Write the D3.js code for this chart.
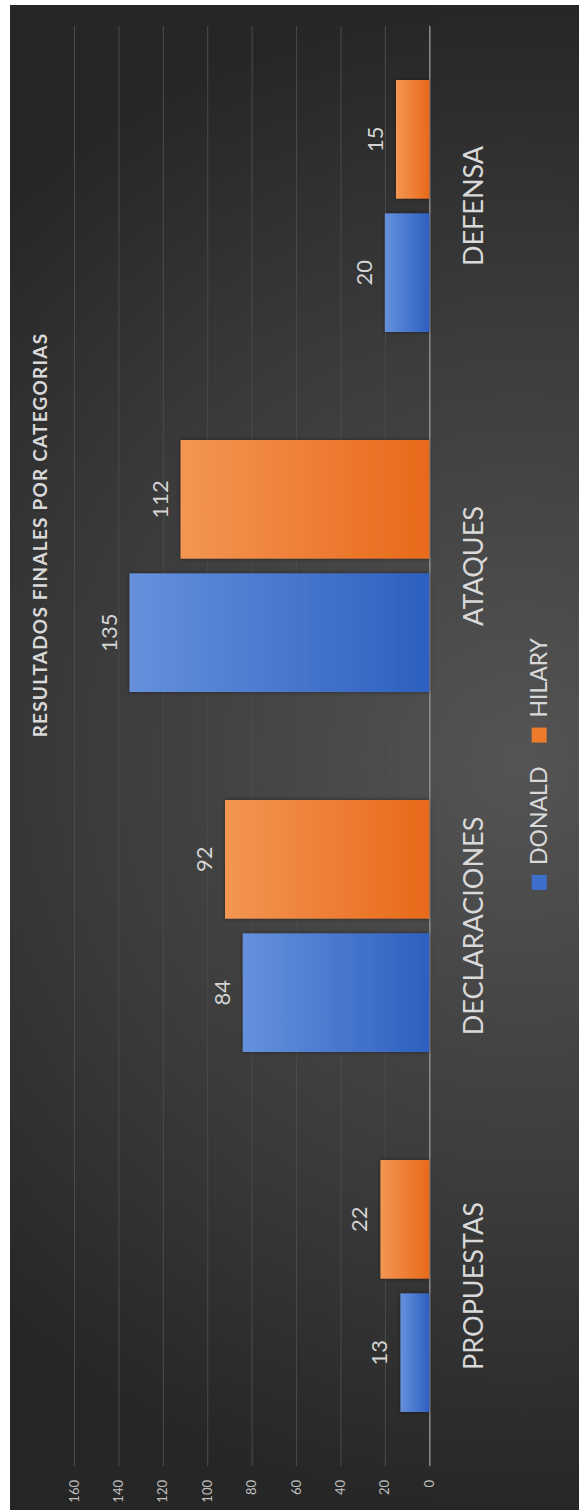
<!DOCTYPE html>
<html>
<head>
<meta charset="utf-8">
<script src="https://d3js.org/d3.v7.min.js"></script>
<style>
html,body{margin:0;padding:0;background:#fff;}
svg{display:block;}
text{font-family:Lato,"Open Sans",sans-serif;}
</style>
</head>
<body>
<script>
const categories = ["PROPUESTAS", "DECLARACIONES", "ATAQUES", "DEFENSA"];
const seriesNames = ["DONALD", "HILARY"];
const donald = [13, 84, 135, 20];
const hilary = [22, 92, 112, 15];
const tickValues = [0, 20, 40, 60, 80, 100, 120, 140, 160];
const titleText = "RESULTADOS FINALES POR CATEGORIAS";

const W = 579, H = 1510;
const svg = d3.select("body").append("svg").attr("width", W).attr("height", H);
const defs = svg.append("defs");

const bg = defs.append("radialGradient").attr("id", "bg")
  .attr("gradientUnits", "userSpaceOnUse")
  .attr("cx", 520).attr("cy", 760).attr("r", 760);
bg.append("stop").attr("offset", "0").attr("stop-color", "#545454");
bg.append("stop").attr("offset", "0.55").attr("stop-color", "#3c3c3c");
bg.append("stop").attr("offset", "1").attr("stop-color", "#262626");

const gBlue = defs.append("linearGradient").attr("id", "gBlue").attr("x1", "0").attr("x2", "1").attr("y1", "0").attr("y2", "0");
gBlue.append("stop").attr("offset", "0").attr("stop-color", "#6690dc");
gBlue.append("stop").attr("offset", "1").attr("stop-color", "#2d60c0");
const gOrange = defs.append("linearGradient").attr("id", "gOrange").attr("x1", "0").attr("x2", "1").attr("y1", "0").attr("y2", "0");
gOrange.append("stop").attr("offset", "0").attr("stop-color", "#f49652");
gOrange.append("stop").attr("offset", "1").attr("stop-color", "#e8691a");

const shadow = defs.append("filter").attr("id", "sh").attr("x", "-20%").attr("y", "-20%").attr("width", "140%").attr("height", "140%");
shadow.append("feDropShadow").attr("dx", 0).attr("dy", 0).attr("stdDeviation", 2).attr("flood-color", "#000").attr("flood-opacity", 0.45);

svg.append("rect").attr("x", 10).attr("y", 5).attr("width", W - 10).attr("height", H - 5).attr("fill", "url(#bg)");

const x = d3.scaleLinear().domain([0, 160]).range([429.3, 74]);
const y = d3.scaleBand().domain(categories).range([1466, 26]).paddingInner(0.3).paddingOuter(0.15);
const ySub = d3.scaleBand().domain(seriesNames).range([y.bandwidth(), 0]).paddingInner(0.11);

svg.append("g").attr("transform", "translate(0,1466)")
  .call(d3.axisBottom(x).tickValues(tickValues).tickSize(-1440).tickFormat(""))
  .call(g => g.select(".domain").remove())
  .call(g => g.selectAll(".tick line").attr("stroke", d => d === 0 ? "#8c8c8c" : "#4b4b4b").attr("stroke-width", d => d === 0 ? 1.5 : 1));

svg.append("g").selectAll("text").data(tickValues).join("text")
  .attr("transform", d => `translate(${x(d)},1480) rotate(-90)`)
  .attr("text-anchor", "end").attr("dy", "0.35em")
  .attr("font-size", 13).attr("fill", "#bfbfbf")
  .text(d => d);

const rows = categories.map((c, i) => ({cat: c, vals: [
  {s: "DONALD", v: donald[i], fill: "url(#gBlue)"},
  {s: "HILARY", v: hilary[i], fill: "url(#gOrange)"}
]}));

const groups = svg.append("g").selectAll("g").data(rows).join("g")
  .attr("transform", d => `translate(0,${y(d.cat)})`);

groups.selectAll("rect").data(d => d.vals).join("rect")
  .attr("x", d => x(d.v)).attr("width", d => x(0) - x(d.v))
  .attr("y", d => ySub(d.s)).attr("height", ySub.bandwidth())
  .attr("fill", d => d.fill).attr("filter", "url(#sh)");

groups.selectAll("text.val").data(d => d.vals).join("text").attr("class", "val")
  .attr("transform", d => `translate(${x(d.v) - 13},${ySub(d.s) + ySub.bandwidth() / 2}) rotate(-90)`)
  .attr("text-anchor", "middle").attr("font-size", 22).attr("fill", "#d4d4d4")
  .text(d => d.v);

svg.append("g").selectAll("text").data(categories).join("text")
  .attr("transform", d => `translate(483,${y(d) + y.bandwidth() / 2}) rotate(-90)`)
  .attr("text-anchor", "middle").attr("font-size", 27).attr("fill", "#d9d9d9")
  .text(d => d);

// legend
const legend = svg.append("g");
const legColors = ["#3e6fcc", "#ee7a2c"];
const legItems = legend.selectAll("g").data(seriesNames).join("g");
legItems.append("rect").attr("width", 15).attr("height", 15).attr("fill", (d, i) => legColors[i]);
legItems.append("text").attr("font-size", 23).attr("fill", "#d9d9d9").text(d => d);
const widths = [];
legItems.selectAll("text").each(function () { widths.push(this.getComputedTextLength()); });
const sq = 15, gapT = 10, gapI = 24;
const total = widths.reduce((a, w) => a + sq + gapT + w, 0) + gapI * (widths.length - 1);
let pos = 764 + total / 2;
legItems.each(function (d, i) {
  const g = d3.select(this);
  g.select("rect").attr("x", 531.7).attr("y", pos - sq);
  g.select("text").attr("transform", `translate(546.7,${pos - sq - gapT}) rotate(-90)`).attr("text-anchor", "start");
  pos -= sq + gapT + widths[i] + gapI;
});

svg.append("text")
  .attr("transform", "translate(47,535) rotate(-90)")
  .attr("text-anchor", "middle").attr("font-size", 19).attr("font-weight", "bold")
  .attr("letter-spacing", 1.2).attr("fill", "#d9d9d9")
  .text(titleText);
</script>
</body>
</html>
